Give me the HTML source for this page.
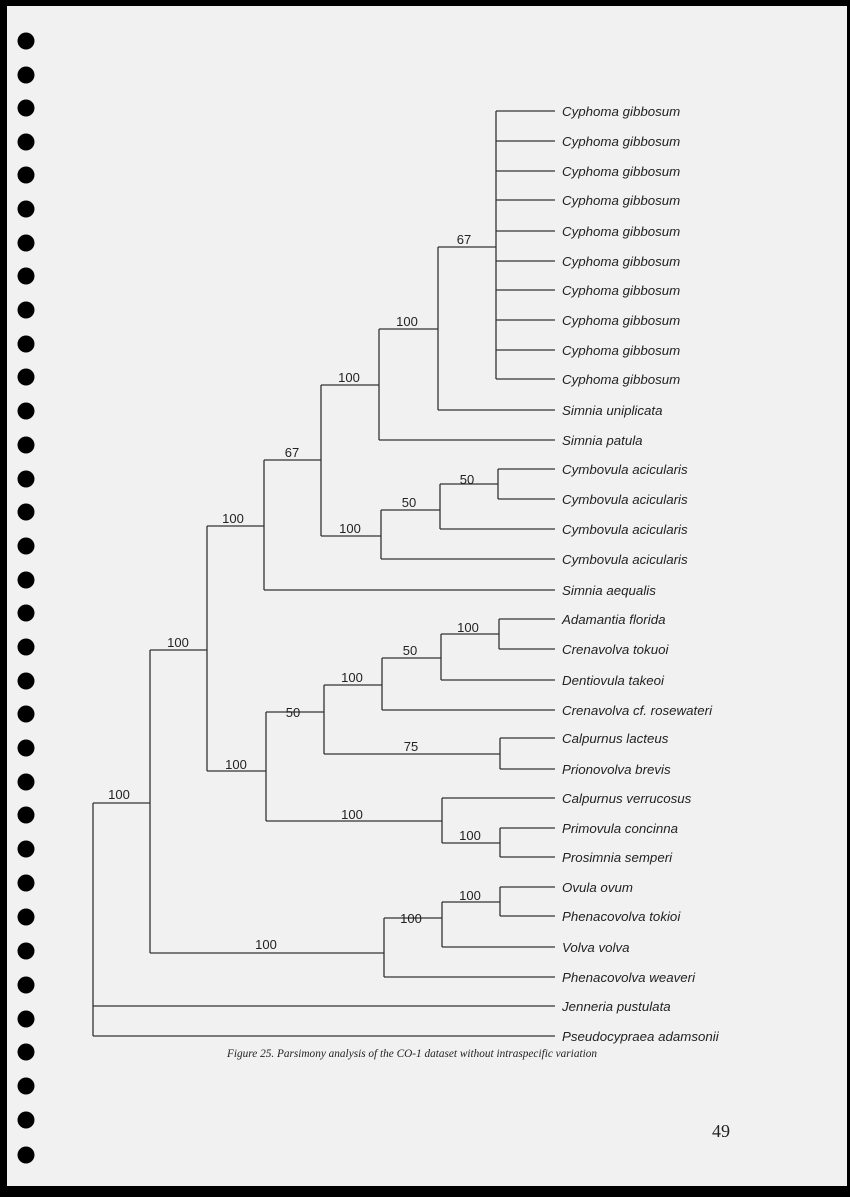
<!DOCTYPE html>
<html><head><meta charset="utf-8"><style>
html,body{margin:0;padding:0;background:#000;}
svg{display:block}
</style></head><body>
<svg width="850" height="1197" xmlns="http://www.w3.org/2000/svg">
<rect x="0" y="0" width="850" height="1197" fill="#000"/>
<rect x="7" y="6" width="840" height="1180" fill="#f1f1f1"/>
<g fill="#000">
<circle cx="26" cy="41" r="8.5"/><circle cx="26" cy="75" r="8.5"/><circle cx="26" cy="108" r="8.5"/><circle cx="26" cy="142" r="8.5"/><circle cx="26" cy="175" r="8.5"/><circle cx="26" cy="209" r="8.5"/><circle cx="26" cy="243" r="8.5"/><circle cx="26" cy="276" r="8.5"/><circle cx="26" cy="310" r="8.5"/><circle cx="26" cy="344" r="8.5"/><circle cx="26" cy="377" r="8.5"/><circle cx="26" cy="411" r="8.5"/><circle cx="26" cy="445" r="8.5"/><circle cx="26" cy="479" r="8.5"/><circle cx="26" cy="512" r="8.5"/><circle cx="26" cy="546" r="8.5"/><circle cx="26" cy="580" r="8.5"/><circle cx="26" cy="613" r="8.5"/><circle cx="26" cy="647" r="8.5"/><circle cx="26" cy="681" r="8.5"/><circle cx="26" cy="714" r="8.5"/><circle cx="26" cy="748" r="8.5"/><circle cx="26" cy="782" r="8.5"/><circle cx="26" cy="815" r="8.5"/><circle cx="26" cy="849" r="8.5"/><circle cx="26" cy="883" r="8.5"/><circle cx="26" cy="917" r="8.5"/><circle cx="26" cy="951" r="8.5"/><circle cx="26" cy="985" r="8.5"/><circle cx="26" cy="1019" r="8.5"/><circle cx="26" cy="1052" r="8.5"/><circle cx="26" cy="1086" r="8.5"/><circle cx="26" cy="1120" r="8.5"/><circle cx="26" cy="1155" r="8.5"/>
</g>
<g stroke="#333" stroke-width="1.3" fill="none">
<path d="M93 803V1036M93 803H150M93 1006H555M93 1036H555"/>
<path d="M150 650V953M150 650H207M150 953H384"/>
<path d="M207 526V771M207 526H264M207 771H266"/>
<path d="M264 460V590M264 460H321M264 590H555"/>
<path d="M321 385V536M321 385H379M321 536H381"/>
<path d="M379 329V440M379 329H438M379 440H555"/>
<path d="M438 247V410M438 247H496M438 410H555"/>
<path d="M496 111V379M496 111H555M496 141H555M496 171H555M496 200H555M496 231H555M496 261H555M496 290H555M496 320H555M496 350H555M496 379H555"/>
<path d="M381 510V559M381 510H440M381 559H555"/>
<path d="M440 484V529M440 484H498M440 529H555"/>
<path d="M498 469V499M498 469H555M498 499H555"/>
<path d="M266 712V821M266 712H324M266 821H442"/>
<path d="M324 685V754M324 685H382M324 754H500"/>
<path d="M382 658V710M382 658H441M382 710H555"/>
<path d="M441 634V680M441 634H499M441 680H555"/>
<path d="M499 619V649M499 619H555M499 649H555"/>
<path d="M500 738V769M500 738H555M500 769H555"/>
<path d="M442 798V843M442 798H555M442 843H500"/>
<path d="M500 828V857M500 828H555M500 857H555"/>
<path d="M384 918V977M384 918H442M384 977H555"/>
<path d="M442 902V947M442 902H500M442 947H555"/>
<path d="M500 887V916M500 887H555M500 916H555"/>
</g>
<g font-family="Liberation Sans, sans-serif" font-size="13" fill="#222" text-anchor="middle">
<text x="119" y="799">100</text>
<text x="178" y="647">100</text>
<text x="266" y="949">100</text>
<text x="233" y="523">100</text>
<text x="236" y="769">100</text>
<text x="292" y="457">67</text>
<text x="349" y="382">100</text>
<text x="350" y="533">100</text>
<text x="407" y="326">100</text>
<text x="464" y="244">67</text>
<text x="409" y="507">50</text>
<text x="467" y="484">50</text>
<text x="293" y="717">50</text>
<text x="352" y="682">100</text>
<text x="410" y="655">50</text>
<text x="468" y="632">100</text>
<text x="411" y="751">75</text>
<text x="352" y="819">100</text>
<text x="470" y="840">100</text>
<text x="411" y="923">100</text>
<text x="470" y="900">100</text>
</g>
<g font-family="Liberation Sans, sans-serif" font-style="italic" font-size="13.3" fill="#222">
<text x="562" y="116">Cyphoma gibbosum</text>
<text x="562" y="146">Cyphoma gibbosum</text>
<text x="562" y="176">Cyphoma gibbosum</text>
<text x="562" y="205">Cyphoma gibbosum</text>
<text x="562" y="236">Cyphoma gibbosum</text>
<text x="562" y="266">Cyphoma gibbosum</text>
<text x="562" y="295">Cyphoma gibbosum</text>
<text x="562" y="325">Cyphoma gibbosum</text>
<text x="562" y="355">Cyphoma gibbosum</text>
<text x="562" y="384">Cyphoma gibbosum</text>
<text x="562" y="415">Simnia uniplicata</text>
<text x="562" y="445">Simnia patula</text>
<text x="562" y="474">Cymbovula acicularis</text>
<text x="562" y="504">Cymbovula acicularis</text>
<text x="562" y="534">Cymbovula acicularis</text>
<text x="562" y="564">Cymbovula acicularis</text>
<text x="562" y="595">Simnia aequalis</text>
<text x="562" y="624">Adamantia florida</text>
<text x="562" y="654">Crenavolva tokuoi</text>
<text x="562" y="685">Dentiovula takeoi</text>
<text x="562" y="715">Crenavolva cf. rosewateri</text>
<text x="562" y="743">Calpurnus lacteus</text>
<text x="562" y="774">Prionovolva brevis</text>
<text x="562" y="803">Calpurnus verrucosus</text>
<text x="562" y="833">Primovula concinna</text>
<text x="562" y="862">Prosimnia semperi</text>
<text x="562" y="892">Ovula ovum</text>
<text x="562" y="921">Phenacovolva tokioi</text>
<text x="562" y="952">Volva volva</text>
<text x="562" y="982">Phenacovolva weaveri</text>
<text x="562" y="1011">Jenneria pustulata</text>
<text x="562" y="1041">Pseudocypraea adamsonii</text>
</g>
<text x="227" y="1057" font-family="Liberation Serif, serif" font-style="italic" font-size="12" fill="#222" textLength="370" lengthAdjust="spacingAndGlyphs">Figure 25. Parsimony analysis of the CO-1 dataset without intraspecific variation</text>
<text x="712" y="1137" font-family="Liberation Serif, serif" font-size="18" fill="#222">49</text>
</svg>
</body></html>
